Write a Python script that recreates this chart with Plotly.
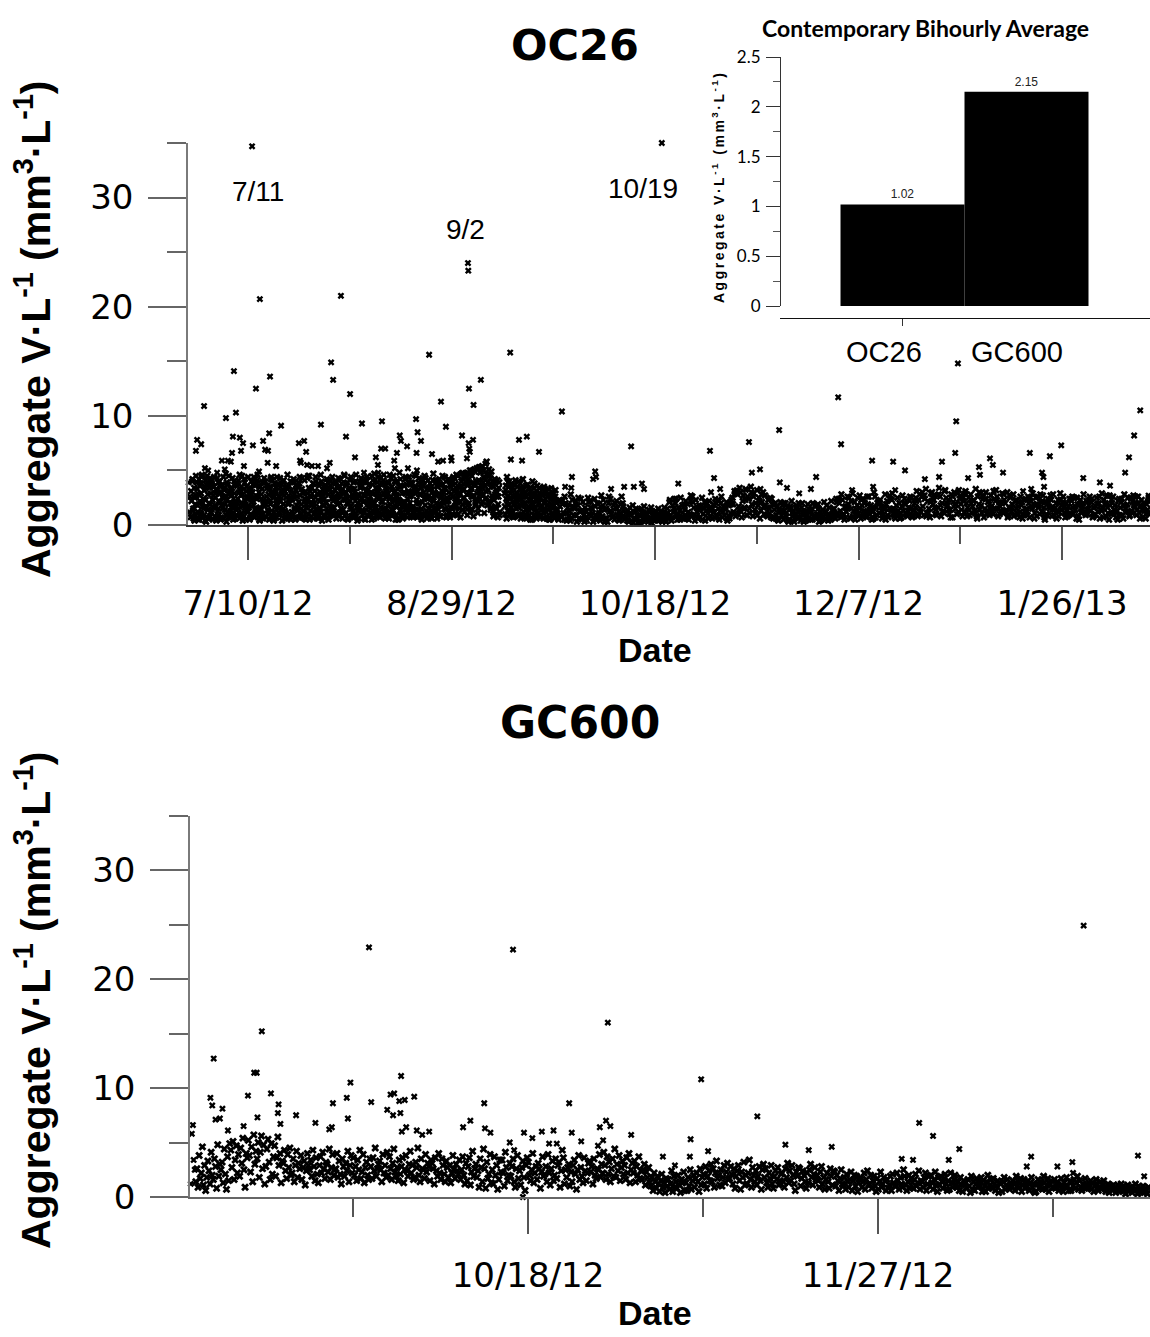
import plotly.graph_objects as go
from datetime import datetime, timedelta

# ---------------- DATA ----------------
# OC26 readings grouped per day. Summer blocks: 6 readings at 01,05,...,21 h ("a") and 03,07,...,23 h ("b")
oc26_jun = [  # 6/26 - 6/30
    [3.1, 0.8, 4.2, 1.5, 2.6, 0.4], [1.9, 4.5, 0.6, 3.3, 1.2, 2.8], [0.5, 2.2, 3.8, 1.0, 4.6, 1.7],
    [2.4, 0.9, 3.5, 4.1, 0.3, 1.6], [3.9, 1.4, 2.0, 0.7, 4.3, 2.9],
]
oc26_jun_b = [
    [2.2, 4.0, 1.3, 0.6, 3.4, 2.5], [0.9, 2.7, 3.9, 1.8, 0.5, 4.2], [3.6, 1.1, 2.9, 4.4, 2.0, 0.7],
    [1.5, 3.2, 0.4, 2.3, 3.7, 4.5], [2.8, 0.6, 3.4, 1.9, 1.2, 3.8],
]
oc26_jul = [
    [1.1, 3.6, 0.5, 2.7, 4.4, 1.8], [2.5, 0.4, 3.2, 1.3, 3.9, 0.9], [4.0, 2.1, 0.7, 3.0, 1.5, 2.6],
    [0.6, 3.4, 1.9, 4.7, 0.3, 2.3], [3.7, 1.2, 2.8, 0.8, 3.3, 1.6], [2.0, 4.3, 0.5, 1.7, 2.9, 3.8],
    [1.4, 0.9, 3.6, 2.4, 4.1, 0.6], [3.2, 2.7, 1.1, 4.5, 0.4, 1.9], [0.8, 3.9, 2.2, 1.3, 3.5, 2.6],
    [4.4, 1.6, 0.5, 2.9, 1.0, 3.3], [2.3, 3.7, 1.8, 0.7, 4.2, 1.2], [0.9, 2.6, 4.6, 1.5, 3.0, 0.4],
    [3.5, 1.1, 2.4, 3.9, 0.6, 2.0], [1.7, 4.0, 0.8, 2.2, 3.6, 1.4], [2.8, 0.5, 3.3, 1.9, 4.4, 0.9],
    [4.1, 2.5, 1.2, 0.6, 2.9, 3.4], [0.7, 1.8, 3.8, 2.6, 1.1, 4.3], [2.2, 3.1, 0.4, 4.0, 1.5, 2.7],
    [1.3, 0.8, 2.5, 3.5, 4.6, 1.9], [3.6, 2.0, 1.0, 0.5, 3.2, 2.4], [0.9, 4.2, 2.8, 1.6, 0.6, 3.7],
    [2.6, 1.4, 3.9, 2.1, 4.4, 0.8], [1.5, 3.3, 0.7, 2.9, 1.2, 4.1], [3.0, 0.5, 1.9, 4.3, 2.3, 1.0],
    [4.5, 2.7, 1.3, 0.8, 3.4, 2.0], [0.6, 1.7, 3.1, 2.5, 4.0, 1.4], [2.9, 3.8, 0.9, 1.6, 2.2, 4.6],
    [1.2, 0.4, 2.6, 3.5, 1.8, 3.0], [3.4, 2.1, 4.2, 0.7, 1.3, 2.8], [0.8, 3.6, 1.5, 2.4, 4.4, 1.1],
    [2.5, 1.0, 3.2, 4.0, 0.6, 2.2],
]
oc26_jul_b = [
    [4.1, 2.3, 1.6, 3.5, 0.8, 2.9], [1.7, 3.0, 4.3, 0.6, 2.2, 3.6], [2.9, 0.5, 1.8, 3.7, 2.5, 4.4],
    [3.2, 1.4, 2.6, 0.9, 3.9, 1.1], [0.7, 4.5, 3.1, 2.0, 1.3, 2.7], [3.4, 1.0, 2.4, 4.0, 0.6, 1.9],
    [2.1, 3.8, 0.8, 1.5, 3.0, 4.6], [0.9, 2.0, 3.5, 2.8, 1.7, 3.3], [4.2, 1.6, 0.5, 3.1, 2.4, 1.2],
    [1.8, 3.3, 2.7, 0.7, 4.0, 2.1], [3.0, 0.9, 4.4, 2.5, 1.4, 3.7], [2.4, 4.1, 1.2, 3.6, 0.5, 1.6],
    [0.6, 2.8, 3.3, 1.0, 2.2, 4.3], [3.9, 1.9, 0.7, 2.6, 3.4, 1.3], [1.1, 3.5, 2.2, 4.2, 0.8, 2.9],
    [2.7, 0.4, 3.8, 1.6, 3.1, 2.0], [4.4, 2.3, 1.5, 0.9, 2.6, 3.5], [1.4, 3.7, 2.9, 1.9, 4.1, 0.6],
    [3.1, 1.1, 0.6, 3.3, 2.0, 2.7], [0.8, 2.5, 4.0, 2.3, 1.2, 3.9], [2.6, 3.9, 1.4, 0.5, 3.2, 1.8],
    [3.5, 0.7, 2.1, 3.8, 2.7, 1.0], [1.9, 4.3, 3.0, 1.3, 0.6, 2.4], [2.2, 1.6, 0.8, 2.9, 4.5, 3.4],
    [0.5, 3.1, 2.6, 1.8, 2.0, 3.8], [3.8, 2.0, 1.1, 4.4, 1.5, 0.7], [1.3, 0.6, 3.6, 2.2, 3.0, 2.5],
    [4.0, 2.9, 1.8, 0.8, 2.4, 3.6], [2.0, 1.2, 3.3, 3.9, 0.5, 1.7], [3.3, 4.0, 0.9, 1.6, 2.8, 2.2],
    [1.6, 2.6, 3.8, 1.1, 3.5, 0.9],
]
oc26_aug = [
    [1.9, 4.3, 2.7, 0.9, 3.1, 1.5], [3.8, 0.6, 1.4, 2.9, 4.5, 2.3], [1.1, 2.5, 3.9, 0.5, 2.0, 3.4],
    [4.1, 1.7, 0.8, 3.3, 1.2, 2.6], [0.7, 3.0, 2.2, 4.6, 1.6, 0.4], [2.8, 1.3, 4.0, 1.9, 3.5, 2.4],
    [3.6, 0.9, 2.1, 0.6, 2.7, 4.2], [1.4, 4.4, 3.2, 2.3, 0.8, 1.8], [2.6, 1.1, 0.5, 3.7, 4.1, 2.0],
    [4.7, 2.9, 1.6, 0.9, 3.0, 1.3], [0.8, 3.4, 2.5, 4.3, 1.0, 3.8], [2.1, 1.5, 4.6, 2.8, 0.6, 3.1],
    [3.3, 0.7, 1.8, 3.9, 2.4, 1.2], [1.0, 2.6, 3.5, 1.4, 4.5, 2.2], [4.0, 3.1, 0.9, 2.7, 1.7, 0.5],
    [2.3, 4.8, 1.3, 3.6, 0.8, 2.9], [0.6, 1.9, 3.0, 2.1, 4.2, 1.5], [3.7, 2.4, 1.1, 4.4, 2.6, 0.9],
    [1.6, 0.8, 3.8, 1.2, 3.3, 4.6], [2.9, 3.5, 2.0, 0.7, 1.4, 3.9], [4.3, 1.2, 2.8, 3.4, 0.5, 2.1],
    [0.9, 3.0, 4.5, 1.8, 2.5, 1.3], [2.4, 4.1, 1.5, 3.2, 3.8, 0.7], [3.5, 0.6, 2.3, 4.7, 1.1, 2.8],
    [1.3, 2.7, 3.6, 0.9, 4.0, 1.9], [4.2, 1.8, 0.8, 2.6, 3.1, 3.7], [2.0, 3.4, 4.4, 1.4, 0.7, 2.5],
    [0.8, 2.2, 3.0, 4.1, 1.6, 3.5], [3.9, 1.5, 2.6, 0.9, 4.3, 2.1], [1.7, 4.6, 3.2, 2.4, 1.0, 3.0],
    [2.8, 0.7, 4.0, 3.5, 1.9, 4.4],
]
oc26_aug_b = [
    [2.6, 0.8, 3.5, 2.0, 4.2, 1.2], [1.2, 3.3, 2.4, 4.6, 0.9, 3.0], [3.7, 2.0, 0.6, 1.9, 3.2, 2.6],
    [2.2, 4.4, 1.5, 2.8, 0.7, 3.9], [3.3, 1.1, 4.0, 0.8, 2.5, 2.0], [0.6, 2.7, 1.6, 3.4, 4.3, 1.3],
    [2.4, 3.9, 2.8, 1.2, 0.5, 3.1], [4.0, 0.9, 1.9, 3.6, 2.9, 2.2], [1.5, 3.0, 4.5, 2.1, 1.1, 0.6],
    [2.0, 1.4, 3.4, 2.5, 3.9, 4.4], [3.1, 2.6, 0.7, 1.6, 2.2, 1.0], [0.9, 4.1, 2.9, 3.7, 1.4, 2.5],
    [2.7, 1.0, 3.8, 0.6, 4.6, 1.9], [4.3, 3.2, 1.3, 2.4, 0.9, 3.0], [1.8, 0.5, 2.6, 4.0, 3.3, 2.1],
    [3.5, 2.2, 4.2, 1.1, 1.7, 0.8], [2.1, 3.6, 0.9, 2.9, 4.4, 1.4], [0.7, 1.6, 3.1, 3.8, 2.0, 2.7],
    [3.9, 2.9, 1.5, 0.7, 1.2, 3.4], [1.4, 4.5, 2.3, 3.1, 0.8, 2.0], [2.8, 0.8, 3.7, 1.5, 3.6, 4.1],
    [3.6, 2.4, 1.0, 4.3, 2.6, 0.6], [1.1, 3.4, 2.7, 0.9, 1.8, 3.3], [2.5, 1.3, 4.1, 2.2, 3.0, 1.6],
    [4.1, 2.0, 0.6, 3.5, 1.4, 2.9], [0.8, 3.7, 2.5, 1.8, 4.5, 2.3], [3.0, 1.5, 3.3, 4.0, 2.1, 0.9],
    [2.3, 4.2, 1.2, 0.7, 3.7, 2.8], [1.0, 2.6, 4.4, 3.1, 1.6, 3.8], [3.4, 0.9, 2.1, 4.5, 2.9, 1.5],
    [2.1, 3.6, 4.7, 1.4, 3.2, 2.5],
]
oc26_sep = [  # 9/1 - 9/23 (no record on 9/10)
    [3.3, 1.2, 4.7, 2.0, 3.8, 0.9], [1.8, 4.2, 2.9, 5.0, 1.4, 3.4], [4.5, 2.6, 0.8, 3.7, 4.9, 2.1],
    [2.3, 5.2, 3.9, 1.5, 4.1, 3.0], [4.8, 3.3, 1.9, 5.4, 2.7, 4.4], [1.1, 3.6, 5.6, 2.5, 4.6, 3.9],
    [3.2, 5.1, 2.2, 4.3, 1.6, 3.7], [2.4, 1.3, 3.5, 0.9, 2.8, 4.0], [1.5, 3.0, 0.7, 2.6, 3.9, 1.2],
    [], [2.9, 1.0, 3.6, 0.6, 2.2, 3.9], [1.8, 4.0, 2.5, 1.3, 3.2, 0.8],
    [3.4, 0.7, 1.9, 2.8, 4.1, 1.5], [2.1, 3.5, 0.9, 1.6, 2.7, 3.8], [0.6, 2.4, 3.1, 4.2, 1.2, 2.0],
    [3.0, 1.4, 2.6, 0.8, 3.7, 1.7], [1.3, 3.3, 0.5, 2.3, 1.9, 4.0], [2.7, 0.9, 3.8, 1.5, 2.9, 0.6],
    [3.6, 2.2, 1.1, 3.4, 0.7, 2.5], [0.8, 1.7, 2.9, 1.2, 3.5, 2.0], [2.4, 3.1, 0.6, 2.6, 1.4, 3.3],
    [1.6, 0.5, 2.8, 1.9, 3.0, 1.1], [2.9, 1.8, 0.9, 3.2, 1.3, 2.2],
]
oc26_sep_b = [
    [2.5, 4.4, 1.6, 3.9, 2.8, 4.8], [3.7, 2.0, 4.6, 1.2, 3.3, 2.6], [1.4, 3.9, 2.7, 5.1, 3.6, 1.9],
    [4.0, 2.9, 1.1, 3.4, 5.3, 2.4], [2.8, 4.9, 3.6, 2.1, 3.9, 5.0], [4.3, 2.4, 3.1, 5.8, 1.8, 4.7],
    [2.0, 4.5, 3.8, 1.4, 4.9, 2.7], [3.6, 0.8, 2.3, 4.2, 1.7, 3.0], [2.6, 4.1, 1.9, 3.4, 0.9],
    [], [1.7, 3.2, 2.4, 4.4, 1.3, 2.7], [3.5, 0.9, 2.9, 1.6, 3.8, 2.1],
    [1.2, 2.6, 3.7, 0.8, 2.3, 3.0], [2.9, 1.7, 4.0, 2.5, 0.9, 1.8], [3.4, 1.0, 1.9, 3.2, 2.6, 0.7],
    [2.0, 3.6, 0.6, 1.5, 2.8, 3.3], [0.9, 2.2, 3.1, 2.7, 0.5, 1.6], [1.9, 3.4, 1.3, 0.7, 2.4, 3.1],
    [2.5, 0.8, 2.0, 2.9, 1.6, 0.9], [1.4, 2.8, 3.3, 0.6, 2.1, 1.5], [3.0, 1.2, 0.8, 1.9, 2.7, 0.5],
    [0.7, 2.3, 1.6, 2.5, 0.9, 2.8], [2.1, 0.6, 2.6, 1.4, 2.0, 1.0],
]
# autumn/winter: 4 readings at 01,07,13,19 h
oc26_sep_late = [  # 9/24 - 9/30
    [1.4, 0.5, 2.3, 0.9], [0.7, 1.9, 1.1, 2.6], [2.0, 0.4, 1.6, 0.8], [1.2, 2.8, 0.6, 1.7],
    [0.9, 1.5, 2.2, 0.3], [1.8, 0.6, 1.3, 2.4], [0.5, 2.1, 0.9, 1.6],
]
oc26_oct = [
    [1.3, 0.4, 2.5, 1.0], [2.2, 0.8, 1.5, 0.3], [0.6, 1.7, 0.9, 2.0], [1.9, 1.1, 0.4, 2.7],
    [0.8, 2.3, 1.4, 0.6], [1.5, 0.3, 2.0, 1.2], [2.4, 1.0, 0.7, 1.8], [0.5, 1.6, 2.2, 0.9],
    [1.2, 0.6, 1.9, 2.6], [2.0, 1.4, 0.5, 1.1], [0.7, 1.3, 0.3, 1.6], [1.1, 0.4, 1.8, 0.6],
    [0.5, 1.5, 0.9, 0.2], [1.4, 0.8, 0.3, 1.2], [0.6, 1.7, 1.0, 0.4], [0.9, 0.3, 1.4, 0.7],
    [1.6, 0.5, 0.8, 1.1], [0.4, 1.2, 0.6, 1.5], [1.0, 0.7, 1.3, 0.3], [0.8, 1.6, 0.5, 1.0],
    [1.5, 0.6, 2.1, 0.9], [0.4, 1.8, 1.2, 2.4], [2.0, 0.9, 0.5, 1.6], [1.3, 2.5, 0.7, 1.1],
    [0.6, 1.4, 2.2, 0.8], [1.9, 0.5, 1.0, 2.7], [0.9, 2.1, 1.6, 0.4], [2.3, 1.2, 0.6, 1.8],
    [0.7, 1.7, 2.5, 1.0], [1.6, 0.4, 1.3, 2.0], [1.1, 2.2, 0.8, 1.5],
]
oc26_nov = [
    [0.6, 1.9, 1.2, 2.4], [2.0, 0.8, 1.5, 0.5], [1.3, 2.6, 0.7, 1.7], [0.9, 1.4, 2.1, 0.4],
    [1.8, 0.6, 1.1, 2.3], [2.5, 1.2, 3.1, 0.8], [1.0, 2.8, 1.7, 3.4], [3.0, 0.7, 2.2, 1.5],
    [1.6, 3.3, 0.9, 2.6], [2.4, 1.1, 3.5, 1.9], [0.8, 2.9, 1.4, 2.0], [3.2, 1.8, 2.5, 0.6],
    [1.3, 2.1, 3.0, 1.0], [2.7, 0.9, 1.6, 2.3], [1.5, 2.5, 0.7, 1.9], [0.6, 1.4, 2.0, 0.9],
    [1.7, 0.4, 1.2, 2.1], [0.9, 1.8, 0.5, 1.3], [2.0, 1.1, 1.6, 0.3], [0.5, 1.5, 2.2, 0.8],
    [1.3, 0.6, 0.9, 1.8], [0.7, 2.0, 1.4, 0.4], [1.6, 0.9, 0.3, 1.2], [0.4, 1.3, 1.9, 0.7],
    [1.1, 0.5, 1.5, 2.0], [0.8, 1.7, 0.6, 1.0], [1.9, 0.3, 1.2, 0.9], [0.6, 1.4, 2.1, 0.5],
    [1.2, 0.8, 0.4, 1.6], [0.9, 2.2, 1.0, 0.7],
]
oc26_dec = [
    [1.5, 0.6, 2.4, 1.1], [0.8, 2.0, 1.3, 2.8], [2.3, 1.0, 0.5, 1.7], [1.2, 2.6, 1.9, 0.7],
    [0.6, 1.5, 2.9, 1.3], [2.1, 0.9, 1.4, 2.5], [1.0, 2.7, 0.6, 1.8], [2.4, 1.3, 2.0, 0.8],
    [0.7, 1.9, 2.6, 1.4], [1.8, 0.5, 1.2, 3.0], [2.6, 1.6, 0.9, 2.1], [1.1, 2.3, 1.7, 0.6],
    [0.9, 1.4, 2.8, 1.9], [2.2, 0.7, 1.5, 2.4], [1.4, 2.9, 1.0, 0.8], [0.6, 1.8, 2.5, 1.3],
    [2.0, 1.1, 0.7, 2.7], [1.3, 2.4, 1.9, 0.9], [0.8, 1.6, 2.2, 1.5], [2.5, 0.9, 1.3, 2.0],
    [1.6, 3.1, 0.8, 2.3], [2.8, 1.2, 2.6, 1.7], [0.9, 2.4, 3.3, 1.1], [2.2, 1.5, 0.7, 2.9],
    [3.0, 1.9, 2.3, 1.0], [1.4, 2.7, 1.6, 3.4], [2.6, 0.8, 2.0, 1.3], [1.1, 3.2, 2.5, 1.8],
    [2.3, 1.0, 1.4, 2.8], [0.7, 2.1, 3.0, 1.5], [1.9, 2.9, 1.2, 2.4],
]
oc26_jan = [
    [2.7, 1.4, 0.8, 2.2], [1.2, 3.1, 2.0, 1.6], [2.5, 0.9, 2.8, 1.1], [1.7, 2.3, 1.3, 3.3],
    [0.8, 2.6, 1.9, 1.4], [2.9, 1.1, 2.4, 0.7], [1.5, 3.0, 1.0, 2.1], [2.2, 1.6, 2.7, 1.2],
    [1.0, 2.4, 1.5, 3.2], [2.6, 0.8, 2.1, 1.7], [1.3, 2.9, 1.1, 2.3], [2.0, 1.4, 3.0, 0.9],
    [1.6, 2.5, 1.2, 1.9], [2.8, 1.0, 2.2, 1.5], [1.1, 2.1, 0.7, 2.6], [1.8, 0.6, 2.3, 1.2],
    [2.4, 1.5, 0.9, 2.0], [0.7, 2.2, 1.7, 2.9], [1.9, 1.1, 2.5, 0.8], [2.6, 1.8, 1.0, 2.1],
    [1.2, 2.7, 1.6, 0.5], [2.1, 0.9, 2.4, 1.7], [1.5, 2.3, 0.8, 2.8], [0.9, 1.6, 2.0, 1.3],
    [2.3, 1.2, 2.9, 1.8], [1.4, 2.6, 1.1, 0.7], [2.0, 0.8, 1.7, 2.4], [1.1, 2.2, 2.6, 1.0],
    [2.5, 1.4, 0.6, 1.9], [0.8, 1.9, 2.3, 1.5], [1.7, 2.8, 1.2, 0.9],
]
oc26_feb = [
    [2.2, 1.0, 1.8, 2.6], [1.3, 2.4, 0.7, 1.6], [0.9, 1.7, 2.5, 1.2], [2.0, 0.6, 1.4, 2.9],
    [1.5, 2.3, 1.9, 0.8], [2.7, 1.1, 0.5, 1.8], [1.0, 2.0, 2.6, 1.4], [1.8, 0.7, 1.3, 2.2],
    [2.4, 1.6, 2.1, 0.9], [0.6, 2.8, 1.5, 1.2], [1.9, 1.2, 0.8, 2.5], [1.3, 2.1, 2.7, 1.6],
    [2.6, 0.9, 1.4, 2.0], [1.1, 1.8, 2.3, 0.7], [2.0, 1.3, 0.6, 1.9], [1.4, 2.5, 1.0],
]
# autumn/winter extra readings at 04 and 16 h, 9/24 - 2/16
oc26_late_b = [
    [0.8, 1.7], [2.2, 0.5], [1.1, 1.9], [0.4, 2.3], [1.6, 0.9], [2.5, 1.2], [1.3, 0.3],
    [0.7, 2.1], [1.6, 1.1], [2.4, 0.5], [0.9, 1.4], [1.8, 0.3], [0.6, 2.6], [1.3, 0.8], [2.0, 1.5],
    [0.4, 1.0], [1.7, 0.7], [0.4, 1.0], [0.9, 0.2], [1.2, 0.6], [0.3, 1.5], [1.1, 0.5], [0.6, 1.2],
    [0.2, 0.9], [1.3, 0.4], [0.5, 1.1], [0.9, 0.3], [1.1, 2.3], [0.7, 1.5], [2.4, 1.0], [0.5, 1.8],
    [1.9, 0.6], [1.2, 2.2], [2.6, 0.9], [0.8, 1.4], [1.5, 0.5], [2.1, 1.7], [0.6, 1.3],
    [1.5, 0.7], [0.9, 2.2], [2.0, 1.2], [1.6, 0.6], [0.8, 1.9], [1.9, 2.9], [3.1, 1.4], [1.2, 2.7],
    [2.3, 0.9], [1.5, 3.0], [2.6, 1.1], [0.9, 2.2], [2.8, 1.7], [1.8, 0.8], [1.1, 2.4], [1.9, 0.6],
    [0.5, 1.3], [1.4, 2.0], [0.8, 0.4], [1.7, 1.1], [0.3, 1.6], [1.2, 0.7], [2.0, 1.0], [0.6, 1.5],
    [1.3, 0.5], [0.9, 1.8], [1.5, 0.4], [0.7, 1.2], [1.8, 0.9], [0.5, 1.4],
    [1.0, 2.1], [2.4, 0.7], [0.9, 1.6], [1.7, 2.5], [2.2, 0.8], [0.5, 1.8], [1.5, 2.3], [0.8, 1.2],
    [2.6, 1.0], [1.4, 0.6], [0.7, 2.0], [2.1, 1.3], [1.6, 0.5], [0.9, 2.7], [2.3, 1.5], [1.2, 0.8],
    [0.6, 1.7], [2.0, 1.1], [1.3, 2.6], [0.7, 1.4], [2.2, 1.0], [1.5, 3.0], [2.7, 0.8], [1.1, 2.1],
    [2.5, 1.6], [0.9, 2.8], [1.8, 1.2], [3.1, 2.0], [1.4, 0.7], [2.6, 1.9], [1.0, 3.2],
    [1.9, 2.5], [2.9, 0.8], [1.4, 2.0], [2.2, 1.1], [0.6, 3.0], [1.8, 2.6], [2.4, 1.3], [0.9, 1.7],
    [3.1, 2.2], [1.5, 1.0], [2.0, 2.8], [1.2, 0.7], [2.7, 1.6], [0.8, 2.3], [1.7, 1.2], [2.1, 0.9],
    [1.3, 2.6], [2.5, 1.5], [0.6, 1.9], [1.6, 2.8], [2.2, 0.7], [1.0, 2.0], [2.7, 1.4], [1.5, 0.6],
    [0.8, 2.3], [2.1, 1.7], [1.3, 0.9], [2.4, 1.6], [1.7, 2.5], [0.5, 1.2], [2.0, 1.1],
    [1.4, 2.3], [2.1, 0.8], [1.0, 1.9], [2.6, 1.3], [0.7, 2.0], [1.6, 2.7], [2.3, 1.1], [1.2, 0.5],
    [0.9, 2.4], [1.8, 1.5], [2.5, 0.9], [1.1, 1.8], [2.0, 2.6], [0.6, 1.4], [1.7, 1.0], [2.2],
]
# individually read OC26 points (higher values and stragglers)
oc26_points = [
    ("2012-06-25 10:00", 3.9), ("2012-06-25 14:00", 1.2), ("2012-06-25 18:00", 2.6), ("2012-06-25 22:00", 0.7),
    ("2012-06-27 05:00", 6.8), ("2012-06-27 12:00", 7.8), ("2012-06-28 12:00", 7.4), ("2012-06-29 05:00", 10.9),
    ("2012-06-29 10:00", 5.2), ("2012-06-30 05:00", 5.0), ("2012-07-02 10:00", 4.8), ("2012-07-03 14:00", 5.9),
    ("2012-07-04 07:00", 5.1), ("2012-07-04 14:00", 9.8), ("2012-07-05 02:00", 5.9), ("2012-07-05 19:00", 5.8),
    ("2012-07-06 02:00", 6.6), ("2012-07-06 07:00", 8.1), ("2012-07-06 13:00", 14.1), ("2012-07-07 01:00", 10.3),
    ("2012-07-08 00:00", 8.0), ("2012-07-08 07:00", 6.8), ("2012-07-08 19:00", 7.5), ("2012-07-09 00:00", 5.4),
    ("2012-07-11 00:00", 34.7), ("2012-07-11 05:00", 7.3), ("2012-07-11 23:00", 12.5), ("2012-07-12 17:00", 4.9),
    ("2012-07-12 22:00", 20.7), ("2012-07-13 17:00", 7.7), ("2012-07-14 05:00", 6.9), ("2012-07-14 20:00", 5.7),
    ("2012-07-14 22:00", 6.8), ("2012-07-15 05:00", 8.4), ("2012-07-15 10:00", 13.6), ("2012-07-16 22:00", 5.4),
    ("2012-07-18 03:00", 9.1), ("2012-07-22 12:00", 7.5), ("2012-07-22 19:00", 5.9), ("2012-07-23 00:00", 5.7),
    ("2012-07-23 19:00", 7.7), ("2012-07-24 07:00", 6.7), ("2012-07-24 12:00", 5.5), ("2012-07-25 17:00", 5.4),
    ("2012-07-27 05:00", 5.4), ("2012-07-27 22:00", 9.2), ("2012-07-29 10:00", 5.2), ("2012-07-30 02:00", 5.7),
    ("2012-07-30 10:00", 14.9), ("2012-07-30 22:00", 13.3), ("2012-08-01 20:00", 21.0), ("2012-08-03 02:00", 8.1),
    ("2012-08-04 02:00", 12.0), ("2012-08-05 07:00", 6.2), ("2012-08-07 00:00", 9.3), ("2012-08-07 12:00", 4.8),
    ("2012-08-10 10:00", 6.2), ("2012-08-10 22:00", 5.5), ("2012-08-11 00:00", 4.8), ("2012-08-11 17:00", 7.0),
    ("2012-08-11 22:00", 9.5), ("2012-08-12 17:00", 7.0), ("2012-08-14 22:00", 5.9), ("2012-08-15 02:00", 5.2),
    ("2012-08-15 14:00", 6.6), ("2012-08-16 07:00", 8.2), ("2012-08-16 14:00", 7.7), ("2012-08-18 02:00", 7.2),
    ("2012-08-18 07:00", 5.2), ("2012-08-20 07:00", 9.7), ("2012-08-20 10:00", 6.6), ("2012-08-20 12:00", 5.0),
    ("2012-08-20 16:00", 8.5), ("2012-08-21 12:00", 7.7), ("2012-08-23 12:00", 15.6), ("2012-08-24 05:00", 6.5),
    ("2012-08-25 17:00", 5.8), ("2012-08-26 10:00", 11.3), ("2012-08-26 22:00", 5.9), ("2012-08-27 15:00", 9.0),
    ("2012-08-28 22:00", 6.2), ("2012-08-29 00:00", 5.9), ("2012-08-31 14:00", 8.2), ("2012-08-31 17:00", 4.8),
    ("2012-09-01 19:00", 6.1), ("2012-09-02 01:00", 24.0), ("2012-09-02 03:00", 23.3), ("2012-09-02 05:00", 7.5),
    ("2012-09-02 07:00", 12.5), ("2012-09-02 09:00", 7.0), ("2012-09-02 12:00", 6.7), ("2012-09-03 00:00", 5.0),
    ("2012-09-03 07:00", 7.8), ("2012-09-03 10:00", 11.0), ("2012-09-05 00:00", 5.3), ("2012-09-05 05:00", 13.3),
    ("2012-09-12 10:00", 15.8), ("2012-09-12 14:00", 6.0), ("2012-09-14 14:00", 7.8), ("2012-09-15 08:00", 5.9),
    ("2012-09-16 12:00", 8.1), ("2012-09-19 12:00", 6.7), ("2012-09-22 12:00", 3.4), ("2012-09-25 03:00", 10.4),
    ("2012-09-25 22:00", 3.5), ("2012-09-27 10:00", 3.4), ("2012-09-27 14:00", 4.4), ("2012-10-02 19:00", 4.2),
    ("2012-10-03 07:00", 4.9), ("2012-10-03 12:00", 4.4), ("2012-10-07 05:00", 3.3), ("2012-10-10 10:00", 3.5),
    ("2012-10-12 03:00", 7.2), ("2012-10-12 19:00", 3.5), ("2012-10-14 19:00", 3.8), ("2012-10-15 07:00", 3.3),
    ("2012-10-19 16:00", 35.0), ("2012-10-23 17:00", 3.8), ("2012-10-31 12:00", 6.8), ("2012-10-31 18:00", 3.0),
    ("2012-11-01 12:00", 4.3), ("2012-11-03 00:00", 3.3), ("2012-11-07 02:00", 3.2), ("2012-11-09 07:00", 3.2),
    ("2012-11-10 02:00", 7.6), ("2012-11-10 19:00", 4.8), ("2012-11-12 19:00", 5.1), ("2012-11-12 22:00", 3.3),
    ("2012-11-17 12:00", 8.7), ("2012-11-17 16:00", 3.9), ("2012-11-19 10:00", 3.4), ("2012-11-22 10:00", 2.9),
    ("2012-11-25 07:00", 3.3), ("2012-11-26 14:00", 4.4), ("2012-12-02 00:00", 11.7), ("2012-12-02 17:00", 7.4),
    ("2012-12-05 10:00", 3.2), ("2012-12-10 08:00", 5.9), ("2012-12-10 14:00", 3.5), ("2012-12-15 12:00", 5.8),
    ("2012-12-16 00:00", 3.2), ("2012-12-18 10:00", 5.0), ("2012-12-21 02:00", 2.5), ("2012-12-23 07:00", 4.2),
    ("2012-12-26 19:00", 4.4), ("2012-12-27 12:00", 5.8), ("2012-12-30 18:00", 6.6), ("2012-12-31 00:00", 9.5),
    ("2012-12-31 10:00", 14.8), ("2013-01-02 22:00", 4.3), ("2013-01-05 14:00", 5.3), ("2013-01-05 20:00", 4.6),
    ("2013-01-08 07:00", 6.1), ("2013-01-09 00:00", 5.5), ("2013-01-11 12:00", 4.8), ("2013-01-16 10:00", 3.1),
    ("2013-01-18 02:00", 6.6), ("2013-01-18 10:00", 3.3), ("2013-01-21 02:00", 4.8), ("2013-01-21 10:00", 4.4),
    ("2013-01-21 14:00", 3.5), ("2013-01-23 00:00", 6.3), ("2013-01-25 19:00", 7.3), ("2013-01-31 05:00", 4.3),
    ("2013-02-04 07:00", 3.9), ("2013-02-06 19:00", 3.6), ("2013-02-10 12:00", 4.8), ("2013-02-11 11:00", 6.2),
    ("2013-02-12 17:00", 8.2), ("2013-02-14 05:00", 10.5), ("2013-02-16 06:00", 2.7),
]

# GC600 readings per day (every 3 h, from 01:00)
gc600_sep = [  # 9/10 - 9/30
    [1.4, 2.6, 0.9, 3.8, 1.7, 2.2, 4.6, 1.1], [2.9, 0.6, 1.8, 3.3, 2.4, 1.2, 4.1, 2.0],
    [1.6, 3.5, 2.8, 0.8, 4.8, 1.9, 3.0, 2.5], [3.2, 1.3, 4.4, 2.1, 0.7, 3.7, 1.5, 4.9],
    [4.3, 2.7, 5.1, 1.6, 3.4, 4.7, 2.2, 3.9], [1.9, 4.5, 3.1, 5.4, 2.5, 0.9, 4.0, 3.6],
    [5.2, 3.8, 2.3, 4.6, 1.4, 5.7, 3.0, 4.2], [3.5, 5.0, 1.8, 4.1, 5.6, 2.6, 4.8, 1.2],
    [2.8, 4.4, 5.3, 3.2, 1.6, 4.9, 2.1, 3.7], [4.7, 1.9, 3.6, 5.5, 2.9, 4.0, 1.3, 3.3],
    [3.1, 4.3, 2.4, 1.7, 3.9, 2.7, 4.5, 2.0], [2.2, 3.5, 1.4, 2.9, 4.2, 1.8, 3.1, 2.6],
    [3.8, 1.6, 2.7, 3.3, 1.1, 2.4, 4.0, 2.9], [2.5, 3.4, 1.9, 4.3, 2.8, 1.5, 3.6, 2.1],
    [1.3, 2.9, 3.7, 2.2, 4.1, 2.6, 1.7, 3.2], [3.0, 2.3, 4.4, 1.6, 2.7, 3.9, 2.0, 2.5],
    [2.6, 4.0, 1.8, 3.3, 2.1, 1.2, 3.5, 2.8], [1.9, 3.1, 2.4, 4.2, 1.4, 2.9, 3.8, 2.2],
    [3.6, 2.0, 2.8, 1.5, 3.4, 2.5, 4.3, 1.7], [2.3, 3.9, 1.3, 2.7, 3.2, 2.0, 1.6, 3.5],
    [2.8, 1.7, 3.6, 2.4, 4.5, 1.9, 2.6, 3.0],
]
gc600_oct = [
    [3.3, 2.5, 1.4, 3.9, 2.2, 2.9, 1.8, 4.1], [2.0, 3.7, 2.6, 1.6, 3.1, 4.4, 2.3, 1.9],
    [2.7, 1.5, 3.4, 2.1, 2.8, 3.6, 1.3, 2.5], [3.8, 2.4, 1.9, 3.0, 4.2, 2.2, 2.9, 1.6],
    [1.8, 3.2, 2.7, 4.5, 2.0, 1.4, 3.5, 2.6], [2.5, 1.7, 3.9, 2.3, 3.1, 2.8, 1.5, 3.4],
    [3.1, 2.6, 1.2, 3.6, 2.4, 1.9, 4.0, 2.2], [1.6, 3.5, 2.9, 2.1, 1.4, 3.3, 2.7, 1.8],
    [2.9, 1.3, 2.2, 3.8, 2.6, 1.7, 3.0, 2.4], [2.1, 3.4, 1.6, 2.5, 3.7, 2.0, 1.2, 3.1],
    [1.5, 2.8, 3.6, 1.1, 2.3, 4.2, 1.9, 2.6], [3.0, 1.8, 2.4, 0.9, 3.5, 2.7, 1.4, 4.4],
    [2.6, 0.8, 3.2, 1.7, 2.1, 3.9, 1.3, 2.5], [1.2, 3.7, 2.0, 2.9, 0.7, 1.6, 3.4, 2.3],
    [3.4, 2.2, 1.0, 4.1, 2.7, 1.5, 2.0, 3.1], [1.9, 2.8, 3.5, 1.4, 0.9, 2.6, 3.8, 1.7],
    [2.4, 1.1, 2.7, 3.3, 1.8, 0.6, 2.9, 3.6], [3.2, 2.0, 1.5, 2.5, 4.0, 1.3, 2.2, 2.8],
    [1.6, 3.1, 2.6, 0.8, 2.3, 3.7, 1.9, 2.1], [2.8, 1.4, 3.9, 2.2, 1.1, 2.6, 3.3, 1.5],
    [2.0, 3.5, 1.7, 2.9, 3.2, 0.9, 2.4, 4.3], [3.6, 1.2, 2.5, 1.8, 2.7, 3.0, 1.0, 2.3],
    [1.4, 2.9, 3.4, 2.1, 0.7, 2.5, 3.8, 1.6], [2.7, 1.9, 1.3, 3.6, 2.4, 1.5, 2.2, 3.1],
    [3.3, 2.3, 2.8, 1.2, 3.5, 2.0, 1.7, 2.6], [2.5, 3.9, 1.8, 3.0, 2.2, 4.1, 2.9, 1.6],
    [3.7, 2.1, 3.2, 1.4, 2.6, 3.5, 1.9, 4.4], [1.8, 3.0, 2.4, 3.8, 1.5, 2.7, 3.3, 2.1],
    [2.9, 1.6, 3.6, 2.2, 4.0, 1.3, 2.5, 3.1], [2.2, 3.3, 1.4, 2.8, 2.0, 3.7, 1.7, 2.4],
    [1.6, 2.5, 3.0, 1.1, 2.3, 1.8, 2.7, 1.3],
]
gc600_nov = [
    [1.0, 1.8, 0.6, 2.2, 1.4, 0.8, 1.9, 1.2], [0.5, 1.5, 2.1, 0.9, 1.3, 0.4, 1.7, 1.0],
    [1.6, 0.7, 1.2, 2.4, 0.5, 1.9, 0.9, 1.4], [0.8, 2.0, 1.1, 0.4, 1.6, 1.3, 2.3, 0.6],
    [1.3, 0.6, 1.8, 1.0, 2.5, 0.7, 1.5, 2.0], [0.9, 1.7, 2.2, 1.4, 0.5, 2.6, 1.1, 1.8],
    [2.1, 1.2, 2.8, 0.8, 1.9, 2.4, 1.5, 3.0], [1.4, 2.6, 0.9, 2.2, 3.3, 1.7, 2.0, 1.1],
    [2.5, 1.0, 1.8, 2.9, 1.3, 2.3, 3.1, 1.6], [1.7, 2.8, 2.1, 1.2, 2.6, 0.8, 1.9, 2.4],
    [2.9, 1.5, 0.7, 2.3, 1.8, 3.2, 1.1, 2.0], [1.2, 2.2, 3.4, 1.6, 0.9, 2.7, 2.0, 1.4],
    [2.4, 1.1, 1.9, 2.8, 1.5, 0.7, 2.5, 3.0], [1.8, 2.6, 1.3, 0.9, 2.2, 1.7, 2.9, 1.2],
    [0.8, 1.9, 2.4, 1.6, 2.7, 1.1, 1.5, 2.1], [2.2, 1.4, 0.9, 2.6, 1.8, 3.1, 1.3, 2.4],
    [1.5, 2.9, 2.0, 1.2, 0.6, 2.3, 1.9, 2.7], [2.6, 1.0, 1.7, 2.4, 2.0, 1.4, 0.8, 2.2],
    [1.3, 2.5, 3.0, 1.8, 1.1, 2.1, 2.7, 1.6], [2.0, 1.5, 0.9, 2.3, 2.8, 1.2, 1.8, 0.7],
    [1.6, 2.2, 1.4, 0.8, 2.6, 1.9, 1.1, 2.4], [2.3, 1.0, 2.0, 1.5, 0.6, 1.7, 2.5, 1.2],
    [1.1, 1.8, 0.7, 2.1, 1.4, 0.9, 1.6, 2.3], [0.6, 1.5, 2.0, 1.0, 1.9, 0.5, 1.3, 1.7],
    [1.8, 0.9, 1.4, 2.2, 0.7, 1.6, 2.4, 1.1], [1.2, 2.0, 0.8, 1.5, 1.9, 1.0, 0.5, 1.7],
    [0.7, 1.4, 2.3, 0.9, 1.2, 1.8, 1.5, 0.6], [1.6, 0.8, 1.1, 1.9, 0.6, 2.1, 1.3, 1.0],
    [1.0, 2.2, 1.5, 0.7, 1.8, 1.2, 0.9, 2.5], [1.9, 1.1, 0.6, 1.4, 2.0, 0.8, 1.7, 1.3],
]
gc600_dec = [  # 12/1 - 12/27
    [0.8, 1.6, 2.1, 1.0, 1.3, 2.4, 0.7, 1.5], [1.4, 0.9, 1.8, 2.2, 0.6, 1.2, 1.9, 1.0],
    [2.0, 1.3, 0.7, 1.6, 2.3, 1.1, 0.5, 1.8], [1.1, 1.9, 1.4, 0.8, 1.7, 2.1, 1.2, 0.6],
    [1.5, 0.7, 2.2, 1.3, 0.9, 1.6, 2.0, 1.1], [0.9, 1.4, 0.6, 1.8, 1.1, 0.5, 1.5, 1.2],
    [1.3, 0.8, 1.6, 1.0, 0.4, 1.9, 0.7, 1.4], [0.6, 1.2, 1.7, 0.9, 1.3, 1.0, 1.8, 0.5],
    [1.5, 1.0, 0.5, 1.4, 2.0, 0.8, 1.1, 1.6], [0.8, 1.7, 1.2, 0.6, 1.0, 1.5, 0.4, 1.3],
    [1.2, 0.5, 1.4, 1.8, 0.7, 1.1, 1.6, 0.9], [0.7, 1.3, 0.9, 1.5, 1.2, 0.6, 1.9, 1.0],
    [1.4, 0.9, 1.7, 0.5, 1.1, 1.6, 0.8, 1.2], [1.0, 1.5, 0.6, 1.3, 1.8, 0.9, 1.2, 0.4],
    [0.5, 1.2, 1.6, 0.8, 1.0, 1.4, 0.7, 1.9], [1.3, 0.7, 1.1, 1.7, 0.5, 1.2, 1.5, 0.9],
    [0.9, 1.6, 0.8, 1.2, 1.4, 0.6, 1.0, 1.7], [1.1, 0.5, 1.3, 0.9, 1.8, 1.0, 0.6, 1.4],
    [0.6, 1.4, 1.0, 1.6, 0.8, 1.3, 1.9, 0.7], [1.5, 0.9, 0.6, 1.2, 1.0, 1.7, 0.8, 1.1],
    [0.8, 1.2, 1.5, 0.7, 1.3, 0.5, 1.0, 1.6], [1.2, 0.6, 0.9, 1.4, 0.7, 1.1, 1.5, 0.8],
    [0.5, 0.9, 1.2, 0.4, 0.8, 1.0, 0.6, 1.1], [0.8, 0.4, 0.7, 1.1, 0.5, 0.9, 1.2, 0.6],
    [1.0, 0.6, 0.3, 0.8, 1.1, 0.5, 0.7, 0.9], [0.4, 0.9, 0.6, 1.2, 0.7, 0.3, 1.0, 0.5],
    [0.7, 0.5, 1.0, 0.4, 0.8, 0.6, 0.3, 0.9],
]
gc600_points = [
    ("2012-09-09 11:00", 1.2), ("2012-09-09 14:00", 5.8), ("2012-09-09 17:00", 6.6), ("2012-09-09 19:00", 3.4),
    ("2012-09-09 22:00", 2.5), ("2012-09-11 17:00", 9.1), ("2012-09-11 22:00", 8.4), ("2012-09-12 02:00", 12.7),
    ("2012-09-12 07:00", 7.1), ("2012-09-12 19:00", 7.2), ("2012-09-13 02:00", 8.1), ("2012-09-13 17:00", 6.1),
    ("2012-09-15 12:00", 6.5), ("2012-09-16 00:00", 9.3), ("2012-09-16 17:00", 11.4), ("2012-09-17 00:00", 11.4),
    ("2012-09-17 02:00", 7.3), ("2012-09-17 14:00", 15.2), ("2012-09-18 15:00", 9.5), ("2012-09-19 10:00", 7.7),
    ("2012-09-19 12:00", 8.5), ("2012-09-19 17:00", 6.7), ("2012-09-21 12:00", 7.5), ("2012-09-23 17:00", 6.8),
    ("2012-09-25 07:00", 6.2), ("2012-09-25 14:00", 6.4), ("2012-09-25 17:00", 8.6), ("2012-09-27 07:00", 9.1),
    ("2012-09-27 10:00", 7.2), ("2012-09-27 17:00", 10.5), ("2012-09-29 20:00", 22.9), ("2012-09-30 02:00", 8.7),
    ("2012-10-01 22:00", 8.0), ("2012-10-02 07:00", 9.4), ("2012-10-02 14:00", 7.5), ("2012-10-02 17:00", 9.5),
    ("2012-10-03 07:00", 8.8), ("2012-10-03 10:00", 7.7), ("2012-10-03 12:00", 11.1), ("2012-10-03 14:00", 6.0),
    ("2012-10-03 22:00", 8.9), ("2012-10-04 02:00", 6.4), ("2012-10-05 00:00", 9.2), ("2012-10-05 07:00", 6.1),
    ("2012-10-05 22:00", 5.7), ("2012-10-06 17:00", 6.0), ("2012-10-10 14:00", 6.4), ("2012-10-11 10:00", 7.0),
    ("2012-10-13 00:00", 8.6), ("2012-10-13 02:00", 6.3), ("2012-10-13 17:00", 5.9), ("2012-10-15 22:00", 5.0),
    ("2012-10-16 07:00", 22.7), ("2012-10-16 10:00", 4.3), ("2012-10-17 10:00", 0.0), ("2012-10-17 13:00", 5.9),
    ("2012-10-18 12:00", 5.4), ("2012-10-19 14:00", 6.0), ("2012-10-20 10:00", 4.9), ("2012-10-20 22:00", 6.1),
    ("2012-10-21 07:00", 4.9), ("2012-10-22 17:00", 8.6), ("2012-10-23 00:00", 5.9), ("2012-10-24 02:00", 5.1),
    ("2012-10-26 00:00", 4.7), ("2012-10-26 05:00", 6.4), ("2012-10-26 14:00", 5.2), ("2012-10-26 22:00", 7.0),
    ("2012-10-27 03:00", 16.0), ("2012-10-27 10:00", 6.5), ("2012-10-29 19:00", 5.7), ("2012-11-02 10:00", 3.7),
    ("2012-11-03 19:00", 2.9), ("2012-11-05 12:00", 3.7), ("2012-11-05 14:00", 5.3), ("2012-11-06 19:00", 10.8),
    ("2012-11-07 14:00", 4.2), ("2012-11-13 05:00", 7.4), ("2012-11-16 10:00", 4.8), ("2012-11-19 02:00", 4.3),
    ("2012-11-21 17:00", 4.6), ("2012-11-29 17:00", 3.5), ("2012-12-01 00:00", 3.4), ("2012-12-01 17:00", 6.8),
    ("2012-12-03 07:00", 5.6), ("2012-12-05 02:00", 3.4), ("2012-12-06 07:00", 4.4), ("2012-12-14 00:00", 2.8),
    ("2012-12-14 12:00", 3.7), ("2012-12-17 12:00", 2.8), ("2012-12-19 05:00", 3.2), ("2012-12-19 07:00", 2.2),
    ("2012-12-20 12:00", 24.9), ("2012-12-26 17:00", 3.8), ("2012-12-27 10:00", 1.9),
]

# inset: contemporary bihourly averages
avg_sites = ["OC26", "GC600"]
avg_values = [1.02, 2.15]

# labelled peaks (top panel)
peak_labels = [("7/11", "2012-07-12 11:00", 30.6), ("9/2", "2012-09-01 08:00", 27.1), ("10/19", "2012-10-15 01:00", 30.8)]

# ---------------- BUILD ----------------
def expand(blocks):
    xs, ys = [], []
    for start, days, step_h, first_h in blocks:
        d0 = datetime.strptime(start, "%Y-%m-%d")
        for i, vals in enumerate(days):
            for j, v in enumerate(vals):
                xs.append(d0 + timedelta(days=i, hours=first_h + j * step_h))
                ys.append(v)
    return xs, ys

def unpack(pairs):
    return [datetime.strptime(a, "%Y-%m-%d %H:%M") for a, _ in pairs], [b for _, b in pairs]

oc_x, oc_y = expand([
    ("2012-06-26", oc26_jun, 4, 1), ("2012-06-26", oc26_jun_b, 4, 3),
    ("2012-07-01", oc26_jul, 4, 1), ("2012-07-01", oc26_jul_b, 4, 3),
    ("2012-08-01", oc26_aug, 4, 1), ("2012-08-01", oc26_aug_b, 4, 3),
    ("2012-09-01", oc26_sep, 4, 1), ("2012-09-01", oc26_sep_b, 4, 3),
    ("2012-09-24", oc26_sep_late, 6, 1), ("2012-10-01", oc26_oct, 6, 1),
    ("2012-11-01", oc26_nov, 6, 1), ("2012-12-01", oc26_dec, 6, 1), ("2013-01-01", oc26_jan, 6, 1),
    ("2013-02-01", oc26_feb, 6, 1), ("2012-09-24", oc26_late_b, 12, 4),
])
ox_p, oy_p = unpack(oc26_points)

gc_x, gc_y = expand([
    ("2012-09-10", gc600_sep, 3, 1), ("2012-10-01", gc600_oct, 3, 1), ("2012-11-01", gc600_nov, 3, 1),
    ("2012-12-01", gc600_dec, 3, 1),
])
gx_p, gy_p = unpack(gc600_points)

W, H = 1150, 1337
DAY_MS = 86400000
oc_band_marker = dict(symbol="x", size=6.5, color="black", line=dict(width=0))
gc_band_marker = dict(symbol="x", size=7, color="black", line=dict(width=0))
point_marker = dict(symbol="x", size=6, color="black", line=dict(width=0))

fig = go.Figure()
fig.add_trace(go.Scatter(x=oc_x, y=oc_y, mode="markers", marker=oc_band_marker, xaxis="x", yaxis="y",
                         cliponaxis=False, showlegend=False))
fig.add_trace(go.Scatter(x=ox_p, y=oy_p, mode="markers", marker=point_marker, xaxis="x", yaxis="y",
                         cliponaxis=False, showlegend=False))
fig.add_trace(go.Scatter(x=gc_x, y=gc_y, mode="markers", marker=gc_band_marker, xaxis="x2", yaxis="y2",
                         cliponaxis=False, showlegend=False))
fig.add_trace(go.Scatter(x=gx_p, y=gy_p, mode="markers", marker=point_marker, xaxis="x2", yaxis="y2",
                         cliponaxis=False, showlegend=False))
fig.add_trace(go.Bar(x=list(range(len(avg_sites))), y=avg_values, width=1,
                     marker=dict(color="black", line=dict(width=0)),
                     text=[f"{v:.2f}" for v in avg_values], textposition="outside",
                     textfont=dict(family="Liberation Sans", size=12, color="#222"),
                     cliponaxis=False, xaxis="x3", yaxis="y3", showlegend=False))

tickfont = dict(family="DejaVu Sans", size=34, color="black")
common_y = dict(range=[0, 35.001], showline=True, linecolor="#7a7a7a", linewidth=1.5,
                ticks="outside", ticklen=38, tickwidth=1.5, tickcolor="#666", tick0=0, dtick=10,
                minor=dict(ticks="outside", ticklen=19, tickwidth=1.5, tickcolor="#666", tick0=0, dtick=5),
                tickfont=tickfont, ticklabelstandoff=8, showgrid=False, zeroline=False, automargin=False)

fig.update_layout(
    template="none",
    width=W, height=H, margin=dict(l=0, r=0, t=0, b=0, autoexpand=False),
    paper_bgcolor="white", plot_bgcolor="rgba(0,0,0,0)",
    xaxis=dict(domain=[188 / W, 1], anchor="y", type="date",
               range=["2012-06-25 06:15", "2013-02-16 14:30"],
               showline=True, linecolor="#333", linewidth=1.5,
               ticks="outside", ticklen=33, tickwidth=1.5, tickcolor="#555",
               tick0="2012-07-10", dtick=50 * DAY_MS, tickformat="%-m/%-d/%y",
               minor=dict(ticks="outside", ticklen=17, tickwidth=1.5, tickcolor="#555",
                          tick0="2012-07-10", dtick=25 * DAY_MS),
               tickfont=tickfont, ticklabelstandoff=14, showgrid=False, zeroline=False, automargin=False),
    yaxis=dict(domain=[(H - 525) / H, (H - 143) / H], anchor="x", **common_y),
    xaxis2=dict(domain=[190 / W, 1], anchor="y2", type="date",
                range=["2012-09-09 09:00", "2012-12-28 02:00"],
                showline=True, linecolor="#666", linewidth=1.5,
                ticks="outside", ticklen=35, tickwidth=1.5, tickcolor="#555",
                tick0="2012-10-18", dtick=40 * DAY_MS, tickformat="%-m/%-d/%y",
                minor=dict(ticks="outside", ticklen=18, tickwidth=1.5, tickcolor="#555",
                           tick0="2012-10-18", dtick=20 * DAY_MS),
                tickfont=tickfont, ticklabelstandoff=12, showgrid=False, zeroline=False, automargin=False),
    yaxis2=dict(domain=[(H - 1197) / H, (H - 815.5) / H], anchor="x2", **common_y),
    xaxis3=dict(domain=[780 / W, 1], anchor="free", position=(H - 318) / H,
                range=[-0.988, 1.996], showline=True, linecolor="#111", linewidth=1.2,
                tickmode="array", tickvals=[0], ticks="outside", ticklen=7, tickcolor="#333",
                showticklabels=False, showgrid=False, zeroline=False, automargin=False),
    yaxis3=dict(domain=[(H - 306) / H, (H - 57) / H], anchor="free", position=780 / W,
                range=[0, 2.5001], showline=True, linecolor="#333", linewidth=1.2,
                ticks="outside", ticklen=14, tickcolor="#333", tick0=0, dtick=0.5,
                minor=dict(ticks="outside", ticklen=7, tickcolor="#555", tick0=0, dtick=0.25),
                tickfont=dict(family="Lato", size=17, color="black"), ticklabelstandoff=2,
                showgrid=False, zeroline=False, automargin=False),
)

ytitle = "Aggregate V·L<sup>-1</sup> (mm<sup>3</sup>·L<sup>-1</sup>)"
C = dict(xanchor="center", yanchor="middle", showarrow=False)
ann = []
ann.append(dict(text="<b>OC26</b>", x=575 / W, y=(H - 45) / H, xref="paper", yref="paper",
                font=dict(family="DejaVu Sans", size=43, color="black"), **C))
ann.append(dict(text="<b>GC600</b>", x=580 / W, y=(H - 722) / H, xref="paper", yref="paper",
                font=dict(family="DejaVu Sans", size=44, color="black"), **C))
for yc in (650, 1313):
    ann.append(dict(text="<b>Date</b>", x=655 / W, y=(H - yc) / H, xref="paper", yref="paper",
                    font=dict(family="Liberation Sans", size=34, color="black"), **C))
for yc in (329, 1000):
    ann.append(dict(text="<b>" + ytitle + "</b>", x=33 / W, y=(H - yc) / H, xref="paper", yref="paper",
                    textangle=-90, font=dict(family="Liberation Sans", size=41, color="black"), **C))
for lab, xd, yv in peak_labels:
    ann.append(dict(text=lab, x=xd, y=yv, xref="x", yref="y",
                    font=dict(family="Liberation Sans", size=28, color="black"), **C))
# inset texts
ann.append(dict(text="<b>Contemporary Bihourly Average</b>", x=925 / W, y=(H - 28) / H,
                xref="paper", yref="paper", font=dict(family="Lato", size=23, color="black"), **C))
ann.append(dict(text='<b><span style="letter-spacing:2.5px">' + ytitle + "</span></b>",
                x=718 / W, y=(H - 187) / H, xref="paper", yref="paper", textangle=-90,
                font=dict(family="Liberation Sans", size=14, color="black"), **C))
for i, (site, xs) in enumerate(zip(avg_sites, (-19, -10))):
    ann.append(dict(text=site, x=i, y=(H - 352) / H, xref="x3", yref="paper", xshift=xs,
                    font=dict(family="Liberation Sans Narrow, Liberation Sans", size=29, color="black"), **C))
fig.update_layout(annotations=ann)

fig.write_html("out.html")
